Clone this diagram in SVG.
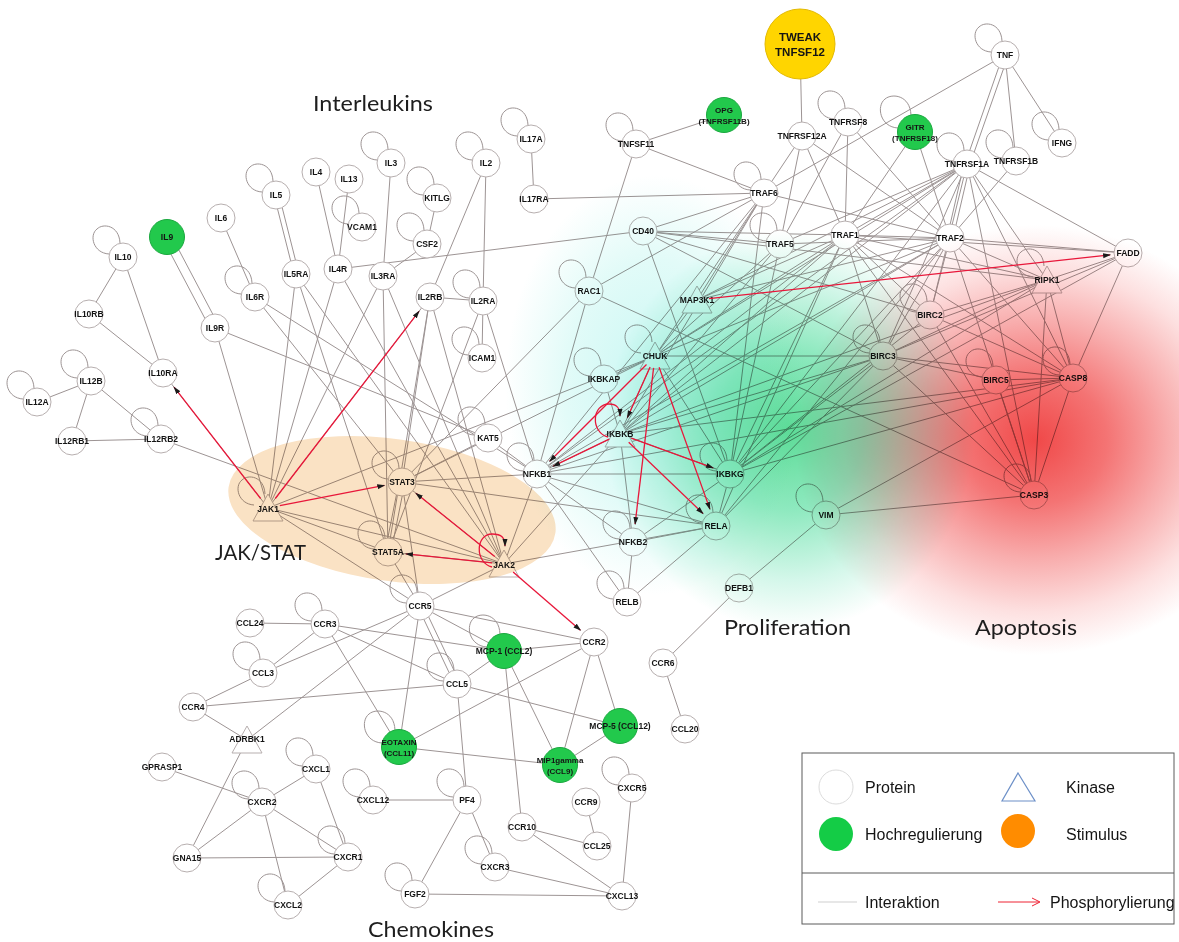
<svg xmlns="http://www.w3.org/2000/svg" xmlns:xlink="http://www.w3.org/1999/xlink" width="1179" height="942" viewBox="0 0 1179 942">
<style>
.e line{stroke:#9d9494;stroke-width:1;fill:none}
.lp{fill:none;stroke:#9d9494;stroke-width:1}
.n{fill:#fff;stroke:#b7afaf;stroke-width:1}
.g{fill:#22c94c;stroke:#1ba83f}
.t{font-family:"Liberation Sans",Arial,sans-serif;font-size:8.5px;font-weight:bold;text-anchor:middle;dominant-baseline:central;fill:#141414}
.t2{font-size:8px}
.r line,.r path{stroke:#e8173a;stroke-width:1.3;fill:none;marker-end:url(#ah)}
.big{font-family:Lato,"Liberation Sans",sans-serif;font-size:22px;fill:#1e1e1e}
.lg{font-family:"Liberation Sans",Arial,sans-serif;font-size:16px;fill:#151515}
.ov{mix-blend-mode:multiply}
</style>
<defs>
<path id="lp" class="lp" d="M-14,-3 C-30,-4 -34,-22 -26,-28 C-20,-34 -4,-32 -3,-14"/>
<path id="lpg" class="lp" d="M-17,-4 C-35,-5 -39,-26 -30,-33 C-23,-39 -5,-37 -4,-17"/>
<marker id="ah" markerWidth="9" markerHeight="6" refX="7" refY="3" orient="auto" markerUnits="userSpaceOnUse"><path d="M0,0.5 L8,3 L0,5.5 z" fill="#1a1a1a"/></marker>
<radialGradient id="gc" cx="0.5" cy="0.5" r="0.5">
<stop offset="0" stop-color="#c8f7f3"/><stop offset="0.6" stop-color="#e2fbf8"/><stop offset="1" stop-color="#ffffff"/>
</radialGradient>
<radialGradient id="gg" cx="0.5" cy="0.5" r="0.5">
<stop offset="0" stop-color="#5edc98"/><stop offset="0.4" stop-color="#8ee9bf"/><stop offset="0.75" stop-color="#d4f7ea"/><stop offset="1" stop-color="#ffffff"/>
</radialGradient>
<radialGradient id="gr" cx="0.5" cy="0.5" r="0.5">
<stop offset="0" stop-color="#f04848"/><stop offset="0.3" stop-color="#f47474"/><stop offset="0.55" stop-color="#f8acac"/><stop offset="0.8" stop-color="#fde0e0"/><stop offset="1" stop-color="#ffffff"/>
</radialGradient>
</defs>
<rect x="0" y="0" width="1179" height="942" fill="#fff"/>

<g id="edges" class="e">
<line x1="123" y1="257" x2="89" y2="314"/>
<line x1="123" y1="257" x2="163" y2="373"/>
<line x1="89" y1="314" x2="163" y2="373"/>
<line x1="163" y1="373" x2="268" y2="508"/>
<line x1="37" y1="402" x2="91" y2="381"/>
<line x1="91" y1="381" x2="72" y2="441"/>
<line x1="91" y1="381" x2="161" y2="439"/>
<line x1="72" y1="441" x2="161" y2="439"/>
<line x1="161" y1="439" x2="504" y2="564"/>
<line x1="163" y1="239" x2="211" y2="330"/>
<line x1="171" y1="235" x2="219" y2="326"/>
<line x1="215" y1="328" x2="268" y2="508"/>
<line x1="215" y1="328" x2="488" y2="438"/>
<line x1="221" y1="218" x2="255" y2="297"/>
<line x1="255" y1="297" x2="402" y2="482"/>
<line x1="255" y1="297" x2="537" y2="474"/>
<line x1="274" y1="195" x2="294" y2="274"/>
<line x1="279" y1="195" x2="299" y2="274"/>
<line x1="296" y1="274" x2="268" y2="508"/>
<line x1="296" y1="274" x2="504" y2="564"/>
<line x1="296" y1="274" x2="388" y2="552"/>
<line x1="316" y1="172" x2="338" y2="269"/>
<line x1="349" y1="179" x2="338" y2="269"/>
<line x1="338" y1="269" x2="643" y2="231"/>
<line x1="338" y1="269" x2="268" y2="508"/>
<line x1="338" y1="269" x2="504" y2="564"/>
<line x1="391" y1="163" x2="383" y2="276"/>
<line x1="437" y1="198" x2="427" y2="244"/>
<line x1="427" y1="244" x2="383" y2="276"/>
<line x1="383" y1="276" x2="268" y2="508"/>
<line x1="383" y1="276" x2="504" y2="564"/>
<line x1="383" y1="276" x2="388" y2="552"/>
<line x1="486" y1="163" x2="430" y2="297"/>
<line x1="486" y1="163" x2="483" y2="301"/>
<line x1="430" y1="297" x2="483" y2="301"/>
<line x1="483" y1="301" x2="482" y2="358"/>
<line x1="430" y1="297" x2="268" y2="508"/>
<line x1="430" y1="297" x2="402" y2="482"/>
<line x1="430" y1="297" x2="388" y2="552"/>
<line x1="430" y1="297" x2="504" y2="564"/>
<line x1="483" y1="301" x2="537" y2="474"/>
<line x1="483" y1="301" x2="388" y2="552"/>
<line x1="531" y1="139" x2="534" y2="199"/>
<line x1="534" y1="199" x2="764" y2="193"/>
<line x1="636" y1="144" x2="724" y2="115"/>
<line x1="636" y1="144" x2="764" y2="193"/>
<line x1="636" y1="144" x2="589" y2="291"/>
<line x1="800" y1="44" x2="802" y2="136"/>
<line x1="802" y1="136" x2="764" y2="193"/>
<line x1="802" y1="136" x2="780" y2="244"/>
<line x1="802" y1="136" x2="845" y2="235"/>
<line x1="802" y1="136" x2="950" y2="238"/>
<line x1="848" y1="122" x2="780" y2="244"/>
<line x1="848" y1="122" x2="845" y2="235"/>
<line x1="848" y1="122" x2="950" y2="238"/>
<line x1="915" y1="132" x2="845" y2="235"/>
<line x1="915" y1="132" x2="950" y2="238"/>
<line x1="1003" y1="55" x2="965" y2="164"/>
<line x1="1008" y1="56" x2="970" y2="164"/>
<line x1="1005" y1="55" x2="1016" y2="161"/>
<line x1="1005" y1="55" x2="1062" y2="143"/>
<line x1="1005" y1="55" x2="764" y2="193"/>
<line x1="1016" y1="161" x2="950" y2="238"/>
<line x1="964" y1="164" x2="947" y2="238"/>
<line x1="970" y1="165" x2="953" y2="238"/>
<line x1="967" y1="164" x2="845" y2="235"/>
<line x1="967" y1="164" x2="1128" y2="253"/>
<line x1="967" y1="164" x2="1047" y2="280"/>
<line x1="967" y1="164" x2="1073" y2="378"/>
<line x1="967" y1="164" x2="1034" y2="495"/>
<line x1="967" y1="164" x2="930" y2="315"/>
<line x1="967" y1="164" x2="883" y2="356"/>
<line x1="967" y1="164" x2="730" y2="474"/>
<line x1="967" y1="164" x2="655" y2="356"/>
<line x1="967" y1="164" x2="620" y2="434"/>
<line x1="967" y1="164" x2="537" y2="474"/>
<line x1="967" y1="164" x2="780" y2="244"/>
<line x1="967" y1="164" x2="697" y2="300"/>
<line x1="764" y1="193" x2="643" y2="231"/>
<line x1="764" y1="193" x2="589" y2="291"/>
<line x1="764" y1="193" x2="950" y2="238"/>
<line x1="764" y1="193" x2="697" y2="300"/>
<line x1="764" y1="193" x2="655" y2="356"/>
<line x1="764" y1="193" x2="620" y2="434"/>
<line x1="764" y1="193" x2="730" y2="474"/>
<line x1="764" y1="193" x2="537" y2="474"/>
<line x1="643" y1="231" x2="845" y2="235"/>
<line x1="643" y1="231" x2="780" y2="244"/>
<line x1="643" y1="231" x2="1047" y2="280"/>
<line x1="643" y1="231" x2="930" y2="315"/>
<line x1="643" y1="231" x2="883" y2="356"/>
<line x1="643" y1="231" x2="730" y2="474"/>
<line x1="780" y1="244" x2="655" y2="356"/>
<line x1="780" y1="244" x2="730" y2="474"/>
<line x1="780" y1="244" x2="620" y2="434"/>
<line x1="780" y1="244" x2="950" y2="238"/>
<line x1="845" y1="235" x2="950" y2="238"/>
<line x1="845" y1="235" x2="930" y2="315"/>
<line x1="845" y1="235" x2="883" y2="356"/>
<line x1="845" y1="235" x2="1047" y2="280"/>
<line x1="845" y1="235" x2="1073" y2="378"/>
<line x1="845" y1="235" x2="1034" y2="495"/>
<line x1="845" y1="235" x2="655" y2="356"/>
<line x1="845" y1="235" x2="620" y2="434"/>
<line x1="845" y1="235" x2="730" y2="474"/>
<line x1="845" y1="235" x2="537" y2="474"/>
<line x1="845" y1="235" x2="716" y2="526"/>
<line x1="845" y1="235" x2="697" y2="300"/>
<line x1="845" y1="235" x2="1128" y2="253"/>
<line x1="950" y1="238" x2="930" y2="315"/>
<line x1="950" y1="238" x2="883" y2="356"/>
<line x1="950" y1="238" x2="1047" y2="280"/>
<line x1="950" y1="238" x2="1128" y2="253"/>
<line x1="950" y1="238" x2="1073" y2="378"/>
<line x1="950" y1="238" x2="1034" y2="495"/>
<line x1="950" y1="238" x2="655" y2="356"/>
<line x1="950" y1="238" x2="620" y2="434"/>
<line x1="950" y1="238" x2="730" y2="474"/>
<line x1="950" y1="238" x2="697" y2="300"/>
<line x1="950" y1="238" x2="537" y2="474"/>
<line x1="950" y1="238" x2="716" y2="526"/>
<line x1="1047" y1="280" x2="1128" y2="253"/>
<line x1="1047" y1="280" x2="1073" y2="378"/>
<line x1="1047" y1="280" x2="930" y2="315"/>
<line x1="1047" y1="280" x2="883" y2="356"/>
<line x1="1047" y1="280" x2="730" y2="474"/>
<line x1="1047" y1="280" x2="620" y2="434"/>
<line x1="1047" y1="280" x2="1034" y2="495"/>
<line x1="1128" y1="253" x2="1073" y2="378"/>
<line x1="1128" y1="253" x2="883" y2="356"/>
<line x1="1128" y1="253" x2="730" y2="474"/>
<line x1="930" y1="315" x2="1034" y2="495"/>
<line x1="930" y1="315" x2="1073" y2="378"/>
<line x1="930" y1="315" x2="730" y2="474"/>
<line x1="883" y1="356" x2="1034" y2="495"/>
<line x1="883" y1="356" x2="1073" y2="378"/>
<line x1="883" y1="356" x2="996" y2="380"/>
<line x1="883" y1="356" x2="730" y2="474"/>
<line x1="883" y1="356" x2="655" y2="356"/>
<line x1="883" y1="356" x2="620" y2="434"/>
<line x1="883" y1="356" x2="537" y2="474"/>
<line x1="883" y1="356" x2="716" y2="526"/>
<line x1="996" y1="380" x2="1034" y2="495"/>
<line x1="996" y1="380" x2="1073" y2="378"/>
<line x1="1073" y1="378" x2="1034" y2="495"/>
<line x1="1073" y1="378" x2="620" y2="434"/>
<line x1="1073" y1="378" x2="730" y2="474"/>
<line x1="1073" y1="378" x2="826" y2="515"/>
<line x1="1073" y1="378" x2="537" y2="474"/>
<line x1="1034" y1="495" x2="826" y2="515"/>
<line x1="826" y1="515" x2="739" y2="588"/>
<line x1="663" y1="663" x2="739" y2="588"/>
<line x1="663" y1="663" x2="685" y2="729"/>
<line x1="655" y1="356" x2="697" y2="300"/>
<line x1="655" y1="356" x2="730" y2="474"/>
<line x1="655" y1="356" x2="620" y2="434"/>
<line x1="655" y1="356" x2="604" y2="379"/>
<line x1="604" y1="379" x2="620" y2="434"/>
<line x1="620" y1="434" x2="730" y2="474"/>
<line x1="620" y1="434" x2="633" y2="542"/>
<line x1="620" y1="434" x2="537" y2="474"/>
<line x1="730" y1="474" x2="537" y2="474"/>
<line x1="730" y1="474" x2="716" y2="526"/>
<line x1="730" y1="474" x2="633" y2="542"/>
<line x1="537" y1="474" x2="716" y2="526"/>
<line x1="537" y1="474" x2="633" y2="542"/>
<line x1="537" y1="474" x2="627" y2="602"/>
<line x1="537" y1="474" x2="402" y2="482"/>
<line x1="537" y1="474" x2="488" y2="438"/>
<line x1="537" y1="474" x2="589" y2="291"/>
<line x1="537" y1="474" x2="504" y2="564"/>
<line x1="716" y1="526" x2="633" y2="542"/>
<line x1="716" y1="526" x2="627" y2="602"/>
<line x1="716" y1="526" x2="402" y2="482"/>
<line x1="716" y1="526" x2="504" y2="564"/>
<line x1="633" y1="542" x2="627" y2="602"/>
<line x1="589" y1="291" x2="1034" y2="495"/>
<line x1="589" y1="291" x2="402" y2="482"/>
<line x1="399" y1="482" x2="385" y2="552"/>
<line x1="405" y1="482" x2="391" y2="552"/>
<line x1="402" y1="482" x2="488" y2="438"/>
<line x1="402" y1="482" x2="420" y2="606"/>
<line x1="402" y1="482" x2="504" y2="564"/>
<line x1="402" y1="482" x2="655" y2="356"/>
<line x1="268" y1="508" x2="388" y2="552"/>
<line x1="268" y1="508" x2="504" y2="564"/>
<line x1="268" y1="508" x2="420" y2="606"/>
<line x1="268" y1="508" x2="655" y2="356"/>
<line x1="388" y1="552" x2="420" y2="606"/>
<line x1="388" y1="552" x2="504" y2="564"/>
<line x1="504" y1="564" x2="420" y2="606"/>
<line x1="504" y1="564" x2="620" y2="434"/>
<line x1="420" y1="606" x2="263" y2="673"/>
<line x1="418" y1="607" x2="455" y2="685"/>
<line x1="423" y1="605" x2="460" y2="683"/>
<line x1="420" y1="606" x2="399" y2="747"/>
<line x1="420" y1="606" x2="504" y2="651"/>
<line x1="420" y1="606" x2="594" y2="642"/>
<line x1="420" y1="606" x2="247" y2="740"/>
<line x1="325" y1="624" x2="250" y2="623"/>
<line x1="325" y1="624" x2="263" y2="673"/>
<line x1="325" y1="624" x2="504" y2="651"/>
<line x1="325" y1="624" x2="457" y2="684"/>
<line x1="325" y1="624" x2="399" y2="747"/>
<line x1="193" y1="707" x2="263" y2="673"/>
<line x1="193" y1="707" x2="457" y2="684"/>
<line x1="193" y1="707" x2="247" y2="740"/>
<line x1="247" y1="740" x2="187" y2="858"/>
<line x1="162" y1="767" x2="262" y2="802"/>
<line x1="262" y1="802" x2="316" y2="769"/>
<line x1="262" y1="802" x2="187" y2="858"/>
<line x1="262" y1="802" x2="348" y2="857"/>
<line x1="262" y1="802" x2="288" y2="905"/>
<line x1="316" y1="769" x2="348" y2="857"/>
<line x1="187" y1="858" x2="348" y2="857"/>
<line x1="348" y1="857" x2="288" y2="905"/>
<line x1="399" y1="747" x2="594" y2="642"/>
<line x1="399" y1="747" x2="560" y2="765"/>
<line x1="457" y1="684" x2="504" y2="651"/>
<line x1="457" y1="684" x2="620" y2="726"/>
<line x1="457" y1="684" x2="467" y2="800"/>
<line x1="467" y1="800" x2="373" y2="800"/>
<line x1="467" y1="800" x2="415" y2="894"/>
<line x1="467" y1="800" x2="495" y2="867"/>
<line x1="504" y1="651" x2="594" y2="642"/>
<line x1="504" y1="651" x2="560" y2="765"/>
<line x1="504" y1="651" x2="522" y2="827"/>
<line x1="594" y1="642" x2="620" y2="726"/>
<line x1="594" y1="642" x2="560" y2="765"/>
<line x1="620" y1="726" x2="560" y2="765"/>
<line x1="522" y1="827" x2="597" y2="846"/>
<line x1="522" y1="827" x2="622" y2="896"/>
<line x1="586" y1="802" x2="597" y2="846"/>
<line x1="495" y1="867" x2="622" y2="896"/>
<line x1="415" y1="894" x2="622" y2="896"/>
<line x1="632" y1="788" x2="622" y2="896"/>
</g>

<g id="nodes">
<g id="n-IL3"><use href="#lp" x="391" y="163"/><circle class="n" cx="391" cy="163" r="14"/><text class="t" x="391" y="163">IL3</text></g>
<g id="n-IL4"><circle class="n" cx="316" cy="172" r="14"/><text class="t" x="316" y="172">IL4</text></g>
<g id="n-IL13"><circle class="n" cx="349" cy="179" r="14"/><text class="t" x="349" y="179">IL13</text></g>
<g id="n-IL5"><use href="#lp" x="276" y="195"/><circle class="n" cx="276" cy="195" r="14"/><text class="t" x="276" y="195">IL5</text></g>
<g id="n-VCAM1"><use href="#lp" x="362" y="227"/><circle class="n" cx="362" cy="227" r="14"/><text class="t" x="362" y="227">VCAM1</text></g>
<g id="n-IL6"><circle class="n" cx="221" cy="218" r="14"/><text class="t" x="221" y="218">IL6</text></g>
<g id="n-IL9"><circle class="n g" cx="167" cy="237" r="17.5"/><text class="t" x="167" y="237">IL9</text></g>
<g id="n-IL10"><use href="#lp" x="123" y="257"/><circle class="n" cx="123" cy="257" r="14"/><text class="t" x="123" y="257">IL10</text></g>
<g id="n-IL5RA"><circle class="n" cx="296" cy="274" r="14"/><text class="t" x="296" y="274">IL5RA</text></g>
<g id="n-IL4R"><circle class="n" cx="338" cy="269" r="14"/><text class="t" x="338" y="269">IL4R</text></g>
<g id="n-IL3RA"><circle class="n" cx="383" cy="276" r="14"/><text class="t" x="383" y="276">IL3RA</text></g>
<g id="n-IL6R"><use href="#lp" x="255" y="297"/><circle class="n" cx="255" cy="297" r="14"/><text class="t" x="255" y="297">IL6R</text></g>
<g id="n-IL10RB"><circle class="n" cx="89" cy="314" r="14"/><text class="t" x="89" y="314">IL10RB</text></g>
<g id="n-IL9R"><circle class="n" cx="215" cy="328" r="14"/><text class="t" x="215" y="328">IL9R</text></g>
<g id="n-IL10RA"><circle class="n" cx="163" cy="373" r="14"/><text class="t" x="163" y="373">IL10RA</text></g>
<g id="n-IL12B"><use href="#lp" x="91" y="381"/><circle class="n" cx="91" cy="381" r="14"/><text class="t" x="91" y="381">IL12B</text></g>
<g id="n-IL12A"><use href="#lp" x="37" y="402"/><circle class="n" cx="37" cy="402" r="14"/><text class="t" x="37" y="402">IL12A</text></g>
<g id="n-IL12RB1"><circle class="n" cx="72" cy="441" r="14"/><text class="t" x="72" y="441">IL12RB1</text></g>
<g id="n-IL12RB2"><use href="#lp" x="161" y="439"/><circle class="n" cx="161" cy="439" r="14"/><text class="t" x="161" y="439">IL12RB2</text></g>
<g id="n-KITLG"><use href="#lp" x="437" y="198"/><circle class="n" cx="437" cy="198" r="14"/><text class="t" x="437" y="198">KITLG</text></g>
<g id="n-CSF2"><use href="#lp" x="427" y="244"/><circle class="n" cx="427" cy="244" r="14"/><text class="t" x="427" y="244">CSF2</text></g>
<g id="n-IL2"><use href="#lp" x="486" y="163"/><circle class="n" cx="486" cy="163" r="14"/><text class="t" x="486" y="163">IL2</text></g>
<g id="n-IL2RB"><circle class="n" cx="430" cy="297" r="14"/><text class="t" x="430" y="297">IL2RB</text></g>
<g id="n-IL2RA"><use href="#lp" x="483" y="301"/><circle class="n" cx="483" cy="301" r="14"/><text class="t" x="483" y="301">IL2RA</text></g>
<g id="n-ICAM1"><use href="#lp" x="482" y="358"/><circle class="n" cx="482" cy="358" r="14"/><text class="t" x="482" y="358">ICAM1</text></g>
<g id="n-IL17A"><use href="#lp" x="531" y="139"/><circle class="n" cx="531" cy="139" r="14"/><text class="t" x="531" y="139">IL17A</text></g>
<g id="n-IL17RA"><circle class="n" cx="534" cy="199" r="14"/><text class="t" x="534" y="199">IL17RA</text></g>
<g id="n-TNFSF11"><use href="#lp" x="636" y="144"/><circle class="n" cx="636" cy="144" r="14"/><text class="t" x="636" y="144">TNFSF11</text></g>
<g id="n-OPG"><circle class="n g" cx="724" cy="115" r="17.5"/><text class="t t2" x="724" y="110">OPG</text><text class="t t2" x="724" y="121">(TNFRSF11B)</text></g>
<g id="n-TWEAK"><circle cx="800" cy="44" r="35" fill="#ffd500" stroke="#e3b900"/><text class="t" style="font-size:11.5px" x="800" y="37">TWEAK</text><text class="t" style="font-size:11.5px" x="800" y="52">TNFSF12</text></g>
<g id="n-TNFRSF12A"><circle class="n" cx="802" cy="136" r="14"/><text class="t" x="802" y="136">TNFRSF12A</text></g>
<g id="n-TNFRSF8"><use href="#lp" x="848" y="122"/><circle class="n" cx="848" cy="122" r="14"/><text class="t" x="848" y="122">TNFRSF8</text></g>
<g id="n-GITR"><use href="#lpg" x="915" y="132"/><circle class="n g" cx="915" cy="132" r="17.5"/><text class="t t2" x="915" y="127">GITR</text><text class="t t2" x="915" y="138">(TNFRSF18)</text></g>
<g id="n-TNF"><use href="#lp" x="1005" y="55"/><circle class="n" cx="1005" cy="55" r="14"/><text class="t" x="1005" y="55">TNF</text></g>
<g id="n-TNFRSF1A"><use href="#lp" x="967" y="164"/><circle class="n" cx="967" cy="164" r="14"/><text class="t" x="967" y="164">TNFRSF1A</text></g>
<g id="n-TNFRSF1B"><use href="#lp" x="1016" y="161"/><circle class="n" cx="1016" cy="161" r="14"/><text class="t" x="1016" y="161">TNFRSF1B</text></g>
<g id="n-IFNG"><use href="#lp" x="1062" y="143"/><circle class="n" cx="1062" cy="143" r="14"/><text class="t" x="1062" y="143">IFNG</text></g>
<g id="n-TRAF6"><use href="#lp" x="764" y="193"/><circle class="n" cx="764" cy="193" r="14"/><text class="t" x="764" y="193">TRAF6</text></g>
<g id="n-CD40"><circle class="n" cx="643" cy="231" r="14"/><text class="t" x="643" y="231">CD40</text></g>
<g id="n-TRAF5"><use href="#lp" x="780" y="244"/><circle class="n" cx="780" cy="244" r="14"/><text class="t" x="780" y="244">TRAF5</text></g>
<g id="n-TRAF1"><circle class="n" cx="845" cy="235" r="14"/><text class="t" x="845" y="235">TRAF1</text></g>
<g id="n-TRAF2"><circle class="n" cx="950" cy="238" r="14"/><text class="t" x="950" y="238">TRAF2</text></g>
<g id="n-FADD"><circle class="n" cx="1128" cy="253" r="14"/><text class="t" x="1128" y="253">FADD</text></g>
<g id="n-RIPK1"><use href="#lp" x="1047" y="280"/><polygon class="n" points="1047,266 1062,293 1032,293"/><text class="t" x="1047" y="280">RIPK1</text></g>
<g id="n-RAC1"><use href="#lp" x="589" y="291"/><circle class="n" cx="589" cy="291" r="14"/><text class="t" x="589" y="291">RAC1</text></g>
<g id="n-MAP3K1"><polygon class="n" points="697,286 712,313 682,313"/><text class="t" x="697" y="300">MAP3K1</text></g>
<g id="n-BIRC2"><use href="#lp" x="930" y="315"/><circle class="n" cx="930" cy="315" r="14"/><text class="t" x="930" y="315">BIRC2</text></g>
<g id="n-BIRC3"><use href="#lp" x="883" y="356"/><circle class="n" cx="883" cy="356" r="14"/><text class="t" x="883" y="356">BIRC3</text></g>
<g id="n-CHUK"><use href="#lp" x="655" y="356"/><polygon class="n" points="655,342 670,369 640,369"/><text class="t" x="655" y="356">CHUK</text></g>
<g id="n-IKBKAP"><use href="#lp" x="604" y="379"/><circle class="n" cx="604" cy="379" r="14"/><text class="t" x="604" y="379">IKBKAP</text></g>
<g id="n-BIRC5"><use href="#lp" x="996" y="380"/><circle class="n" cx="996" cy="380" r="14"/><text class="t" x="996" y="380">BIRC5</text></g>
<g id="n-CASP8"><use href="#lp" x="1073" y="378"/><circle class="n" cx="1073" cy="378" r="14"/><text class="t" x="1073" y="378">CASP8</text></g>
<g id="n-IKBKB"><polygon class="n" points="620,420 635,447 605,447"/><text class="t" x="620" y="434">IKBKB</text></g>
<g id="n-KAT5"><use href="#lp" x="488" y="438"/><circle class="n" cx="488" cy="438" r="14"/><text class="t" x="488" y="438">KAT5</text></g>
<g id="n-NFKB1"><use href="#lp" x="537" y="474"/><circle class="n" cx="537" cy="474" r="14"/><text class="t" x="537" y="474">NFKB1</text></g>
<g id="n-IKBKG"><use href="#lp" x="730" y="474"/><circle class="n" cx="730" cy="474" r="14"/><text class="t" x="730" y="474">IKBKG</text></g>
<g id="n-STAT3"><use href="#lp" x="402" y="482"/><circle class="n" cx="402" cy="482" r="14"/><text class="t" x="402" y="482">STAT3</text></g>
<g id="n-CASP3"><use href="#lp" x="1034" y="495"/><circle class="n" cx="1034" cy="495" r="14"/><text class="t" x="1034" y="495">CASP3</text></g>
<g id="n-JAK1"><use href="#lp" x="268" y="508"/><polygon class="n" points="268,494 283,521 253,521"/><text class="t" x="268" y="509">JAK1</text></g>
<g id="n-VIM"><use href="#lp" x="826" y="515"/><circle class="n" cx="826" cy="515" r="14"/><text class="t" x="826" y="515">VIM</text></g>
<g id="n-RELA"><use href="#lp" x="716" y="526"/><circle class="n" cx="716" cy="526" r="14"/><text class="t" x="716" y="526">RELA</text></g>
<g id="n-NFKB2"><use href="#lp" x="633" y="542"/><circle class="n" cx="633" cy="542" r="14"/><text class="t" x="633" y="542">NFKB2</text></g>
<g id="n-STAT5A"><use href="#lp" x="388" y="552"/><circle class="n" cx="388" cy="552" r="14"/><text class="t" x="388" y="552">STAT5A</text></g>
<g id="n-JAK2"><polygon class="n" points="504,550 519,577 489,577"/><text class="t" x="504" y="565">JAK2</text></g>
<g id="n-DEFB1"><circle class="n" cx="739" cy="588" r="14"/><text class="t" x="739" y="588">DEFB1</text></g>
<g id="n-RELB"><use href="#lp" x="627" y="602"/><circle class="n" cx="627" cy="602" r="14"/><text class="t" x="627" y="602">RELB</text></g>
<g id="n-CCR5"><use href="#lp" x="420" y="606"/><circle class="n" cx="420" cy="606" r="14"/><text class="t" x="420" y="606">CCR5</text></g>
<g id="n-CCR3"><use href="#lp" x="325" y="624"/><circle class="n" cx="325" cy="624" r="14"/><text class="t" x="325" y="624">CCR3</text></g>
<g id="n-CCL24"><circle class="n" cx="250" cy="623" r="14"/><text class="t" x="250" y="623">CCL24</text></g>
<g id="n-CCR2"><circle class="n" cx="594" cy="642" r="14"/><text class="t" x="594" y="642">CCR2</text></g>
<g id="n-MCP1"><use href="#lpg" x="504" y="651"/><circle class="n g" cx="504" cy="651" r="17.5"/><text class="t" x="504" y="651">MCP-1 (CCL2)</text></g>
<g id="n-CCR6"><circle class="n" cx="663" cy="663" r="14"/><text class="t" x="663" y="663">CCR6</text></g>
<g id="n-CCL3"><use href="#lp" x="263" y="673"/><circle class="n" cx="263" cy="673" r="14"/><text class="t" x="263" y="673">CCL3</text></g>
<g id="n-CCL5"><use href="#lp" x="457" y="684"/><circle class="n" cx="457" cy="684" r="14"/><text class="t" x="457" y="684">CCL5</text></g>
<g id="n-CCR4"><circle class="n" cx="193" cy="707" r="14"/><text class="t" x="193" y="707">CCR4</text></g>
<g id="n-MCP5"><circle class="n g" cx="620" cy="726" r="17.5"/><text class="t" x="620" y="726">MCP-5 (CCL12)</text></g>
<g id="n-CCL20"><circle class="n" cx="685" cy="729" r="14"/><text class="t" x="685" y="729">CCL20</text></g>
<g id="n-ADRBK1"><polygon class="n" points="247,726 262,753 232,753"/><text class="t" x="247" y="739">ADRBK1</text></g>
<g id="n-EOTAXIN"><use href="#lpg" x="399" y="747"/><circle class="n g" cx="399" cy="747" r="17.5"/><text class="t t2" x="399" y="742">EOTAXIN</text><text class="t t2" x="399" y="753">(CCL11)</text></g>
<g id="n-MIP1gamma"><circle class="n g" cx="560" cy="765" r="17.5"/><text class="t t2" x="560" y="760">MIP1gamma</text><text class="t t2" x="560" y="771">(CCL9)</text></g>
<g id="n-GPRASP1"><circle class="n" cx="162" cy="767" r="14"/><text class="t" x="162" y="767">GPRASP1</text></g>
<g id="n-CXCL1"><use href="#lp" x="316" y="769"/><circle class="n" cx="316" cy="769" r="14"/><text class="t" x="316" y="769">CXCL1</text></g>
<g id="n-CXCR5"><use href="#lp" x="632" y="788"/><circle class="n" cx="632" cy="788" r="14"/><text class="t" x="632" y="788">CXCR5</text></g>
<g id="n-CXCR2"><use href="#lp" x="262" y="802"/><circle class="n" cx="262" cy="802" r="14"/><text class="t" x="262" y="802">CXCR2</text></g>
<g id="n-CXCL12"><use href="#lp" x="373" y="800"/><circle class="n" cx="373" cy="800" r="14"/><text class="t" x="373" y="800">CXCL12</text></g>
<g id="n-PF4"><use href="#lp" x="467" y="800"/><circle class="n" cx="467" cy="800" r="14"/><text class="t" x="467" y="800">PF4</text></g>
<g id="n-CCR9"><circle class="n" cx="586" cy="802" r="14"/><text class="t" x="586" y="802">CCR9</text></g>
<g id="n-CCR10"><circle class="n" cx="522" cy="827" r="14"/><text class="t" x="522" y="827">CCR10</text></g>
<g id="n-CCL25"><circle class="n" cx="597" cy="846" r="14"/><text class="t" x="597" y="846">CCL25</text></g>
<g id="n-GNA15"><circle class="n" cx="187" cy="858" r="14"/><text class="t" x="187" y="858">GNA15</text></g>
<g id="n-CXCR1"><use href="#lp" x="348" y="857"/><circle class="n" cx="348" cy="857" r="14"/><text class="t" x="348" y="857">CXCR1</text></g>
<g id="n-CXCR3"><use href="#lp" x="495" y="867"/><circle class="n" cx="495" cy="867" r="14"/><text class="t" x="495" y="867">CXCR3</text></g>
<g id="n-FGF2"><use href="#lp" x="415" y="894"/><circle class="n" cx="415" cy="894" r="14"/><text class="t" x="415" y="894">FGF2</text></g>
<g id="n-CXCL13"><circle class="n" cx="622" cy="896" r="14"/><text class="t" x="622" y="896">CXCL13</text></g>
<g id="n-CXCL2"><use href="#lp" x="288" y="905"/><circle class="n" cx="288" cy="905" r="14"/><text class="t" x="288" y="905">CXCL2</text></g>
</g>

<g id="regions">
<ellipse class="ov" cx="392" cy="510" rx="165" ry="71" transform="rotate(8 392 510)" fill="#fae2c4"/>
<ellipse class="ov" cx="655" cy="385" rx="150" ry="210" fill="url(#gc)"/>
<ellipse class="ov" cx="790" cy="430" rx="185" ry="200" fill="url(#gg)"/>
<ellipse class="ov" cx="1035" cy="440" rx="240" ry="215" fill="url(#gr)"/>
</g>

<g id="phospho" class="r">
<line x1="260.6" y1="498.5" x2="174.1" y2="387.2"/>
<line x1="275.3" y1="498.5" x2="419.0" y2="311.3"/>
<line x1="279.8" y1="505.7" x2="384.3" y2="485.4"/>
<line x1="494.7" y1="556.5" x2="416.0" y2="493.3"/>
<line x1="492.1" y1="562.8" x2="405.9" y2="553.9"/>
<line x1="513.1" y1="571.9" x2="580.4" y2="630.2"/>
<line x1="650.1" y1="366.9" x2="627.4" y2="417.6"/>
<line x1="646.5" y1="364.5" x2="549.7" y2="461.3"/>
<line x1="653.6" y1="367.9" x2="635.1" y2="524.1"/>
<line x1="659.1" y1="367.3" x2="709.9" y2="509.1"/>
<line x1="609.2" y1="439.2" x2="553.2" y2="466.2"/>
<line x1="631.3" y1="438.1" x2="713.1" y2="467.8"/>
<line x1="628.7" y1="442.3" x2="703.0" y2="513.5"/>
<line x1="708.9" y1="298.7" x2="1110.1" y2="254.9"/>
<path d="M492,567 C474,562 476,534 492,534 C502,534 505,538 505,546"/>
<path d="M608,437 C590,432 592,404 609,404 C618,404 620,409 620,416"/>
</g>

<g id="labels">
<text class="big" x="313" y="111" textLength="120" lengthAdjust="spacingAndGlyphs">Interleukins</text>
<text class="big" x="215" y="560" textLength="91" lengthAdjust="spacingAndGlyphs">JAK/STAT</text>
<text class="big" x="724" y="635" textLength="127" lengthAdjust="spacingAndGlyphs">Proliferation</text>
<text class="big" x="975" y="635" textLength="102" lengthAdjust="spacingAndGlyphs">Apoptosis</text>
<text class="big" x="368" y="937" textLength="126" lengthAdjust="spacingAndGlyphs">Chemokines</text>
</g>

<g id="legend">
<rect x="802" y="753" width="372" height="171" fill="#fff" stroke="#5a5a5a" stroke-width="1"/>
<line x1="802" y1="873" x2="1174" y2="873" stroke="#5a5a5a" stroke-width="1"/>
<circle cx="836" cy="787" r="17" fill="#fff" stroke="#dcdcdc"/>
<text class="lg" x="865" y="793">Protein</text>
<polygon points="1018,773 1035,801 1002,801" fill="none" stroke="#6d90c8" stroke-width="1.2"/>
<text class="lg" x="1066" y="793">Kinase</text>
<circle cx="836" cy="834" r="17" fill="#14cc46"/>
<text class="lg" x="865" y="840">Hochregulierung</text>
<circle cx="1018" cy="831" r="17" fill="#ff8c00"/>
<text class="lg" x="1066" y="840">Stimulus</text>
<line x1="818" y1="902" x2="857" y2="902" stroke="#cfcfcf" stroke-width="1"/>
<text class="lg" x="865" y="908">Interaktion</text>
<line x1="998" y1="902" x2="1039" y2="902" stroke="#ee2233" stroke-width="1"/>
<path d="M1032,898 L1040,902 L1032,906" fill="none" stroke="#ee2233" stroke-width="1"/>
<text class="lg" x="1050" y="908">Phosphorylierung</text>
</g>
</svg>
